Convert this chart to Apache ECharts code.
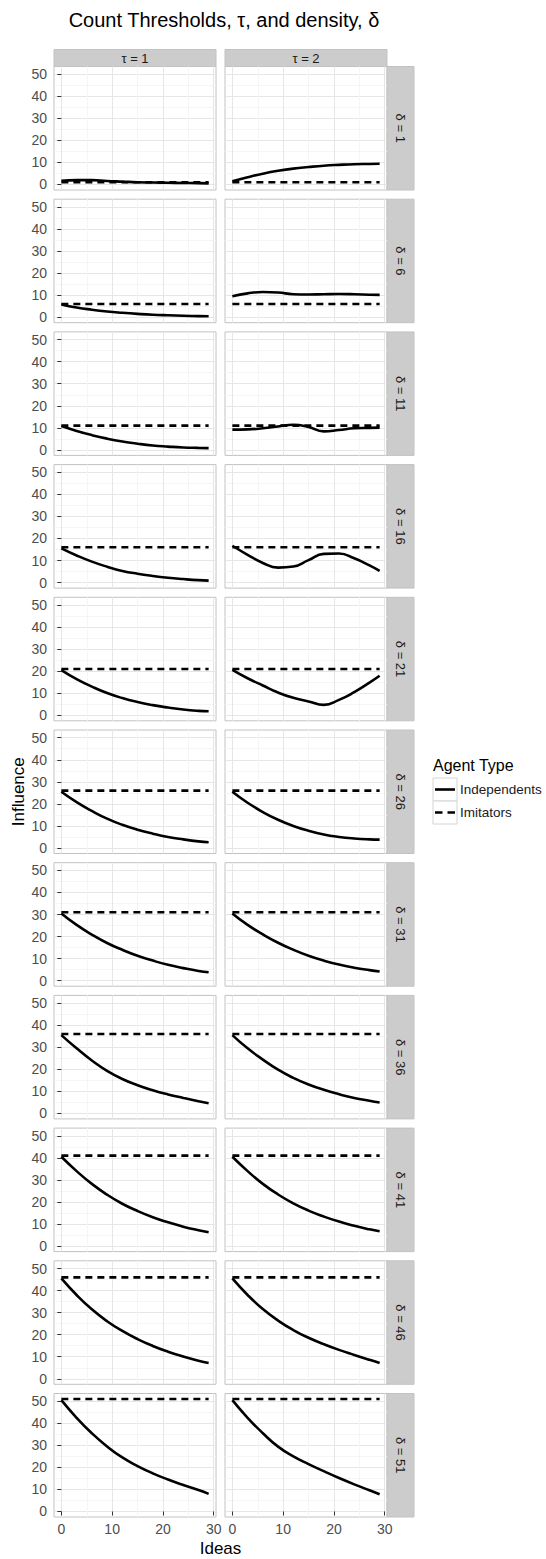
<!DOCTYPE html>
<html>
<head>
<meta charset="utf-8">
<script src="https://cdn.jsdelivr.net/npm/echarts@6/dist/echarts.min.js"></script>
<style>
  html, body { margin: 0; padding: 0; background: #ffffff; }
  #chart { width: 546px; height: 1559px; }
</style>
</head>
<body>
<div id="chart"></div>
<script>
// ---- data -------------------------------------------------------------
const ideas = [0, 3, 6, 9, 12, 15, 18, 21, 24, 27, 29];
const tauLabels = ['τ = 1', 'τ = 2'];
const densities = [1, 6, 11, 16, 21, 26, 31, 36, 41, 46, 51];
const xTicks = [0, 10, 20, 30];
const yTicks = [0, 10, 20, 30, 40, 50];

// Imitator influence for each density row
const imitatorsTau1 = [1, 6, 11, 16, 21, 26, 31, 36, 41, 46, 51];
const imitatorsTau2 = [1, 6, 11, 16, 21, 26, 31, 36, 41, 46, 51];

// Independent influence, sampled at `ideas`, threshold tau = 1
const indepTau1D1  = [1.7, 2.0, 2.0, 1.6, 1.3, 1.0, 0.9, 0.8, 0.7, 0.6, 0.5];
const indepTau1D6  = [5.8, 4.4, 3.4, 2.6, 2.0, 1.5, 1.1, 0.85, 0.65, 0.5, 0.45];
const indepTau1D11 = [10.8, 8.6, 6.7, 5.1, 3.8, 2.8, 2.0, 1.5, 1.1, 0.9, 0.8];
const indepTau1D16 = [15.5, 12.3, 9.5, 7.2, 5.3, 4.0, 3.0, 2.2, 1.6, 1.1, 0.9];
const indepTau1D21 = [20.5, 16.4, 13.0, 10.1, 7.8, 6.0, 4.6, 3.5, 2.6, 2.0, 1.8];
const indepTau1D26 = [25.5, 20.8, 16.8, 13.3, 10.5, 8.3, 6.5, 5.0, 3.9, 3.0, 2.6];
const indepTau1D31 = [30.5, 25.3, 20.9, 17.1, 14.0, 11.3, 9.1, 7.2, 5.7, 4.4, 3.8];
const indepTau1D36 = [35.5, 29.5, 24.0, 19.3, 15.6, 12.8, 10.5, 8.6, 7.0, 5.5, 4.6];
const indepTau1D41 = [40.5, 34.0, 28.2, 23.3, 19.2, 15.9, 13.1, 10.8, 8.8, 7.2, 6.3];
const indepTau1D46 = [45.5, 38.0, 31.5, 26.1, 21.7, 18.0, 14.9, 12.3, 10.1, 8.2, 7.2];
const indepTau1D51 = [50.5, 42.5, 35.5, 29.5, 24.5, 20.6, 17.3, 14.5, 12.0, 9.7, 8.0];

// Independent influence, sampled at `ideas`, threshold tau = 2
const indepTau2D1  = [1.5, 3.3, 4.9, 6.2, 7.2, 7.9, 8.5, 8.9, 9.2, 9.3, 9.4];
const indepTau2D6  = [9.5, 10.8, 11.4, 11.2, 10.4, 10.3, 10.4, 10.5, 10.4, 10.2, 10.1];
const indepTau2D11 = [9.2, 9.3, 9.8, 10.6, 11.4, 10.4, 8.4, 9.0, 9.8, 10.0, 10.1];
const indepTau2D16 = [16.7, 12.6, 8.9, 6.8, 7.3, 10.2, 13.0, 13.2, 11.0, 7.8, 5.3];
const indepTau2D21 = [20.6, 16.8, 13.5, 10.3, 7.9, 6.3, 4.7, 7.0, 10.5, 14.8, 17.9];
const indepTau2D26 = [25.5, 20.5, 16.3, 12.8, 10.0, 7.8, 6.1, 5.0, 4.3, 3.9, 3.8];
const indepTau2D31 = [30.5, 25.3, 21.0, 17.2, 14.0, 11.3, 9.1, 7.3, 5.9, 4.8, 4.2];
const indepTau2D36 = [35.5, 29.5, 24.4, 19.8, 16.1, 13.1, 10.7, 8.7, 7.0, 5.7, 4.9];
const indepTau2D41 = [40.5, 34.0, 28.2, 23.4, 19.4, 16.1, 13.4, 11.1, 9.2, 7.6, 6.7];
const indepTau2D46 = [45.5, 38.0, 31.6, 26.4, 22.1, 18.6, 15.7, 13.1, 10.8, 8.6, 7.2];
const indepTau2D51 = [50.5, 42.5, 35.5, 29.4, 25.0, 21.5, 18.3, 15.2, 12.3, 9.6, 7.8];

const independentsTau1 = [indepTau1D1, indepTau1D6, indepTau1D11, indepTau1D16, indepTau1D21,
  indepTau1D26, indepTau1D31, indepTau1D36, indepTau1D41, indepTau1D46, indepTau1D51];
const independentsTau2 = [indepTau2D1, indepTau2D6, indepTau2D11, indepTau2D16, indepTau2D21,
  indepTau2D26, indepTau2D31, indepTau2D36, indepTau2D41, indepTau2D46, indepTau2D51];

// ---- layout & style ---------------------------------------------------
const FONT = '"Liberation Sans", Arial, Helvetica, sans-serif';
const COL_LEFT = [54, 225];
const PANEL_W = 162;
const ROW_TOP = 66.5;
const ROW_PITCH = 132.7;
const PANEL_H = 123.5;
const STRIP_H = 17;
const STRIP_W = 27;
const X_RANGE = [-1.45, 30.45];
const Y_RANGE = [-2.5, 53.5];
const MAJOR = '#e6e6e6';
const MINOR = '#f5f5f5';
const BORDER = '#c2c2c2';
const STRIP_FILL = '#cccccc';
const STRIP_TEXT = '#1a1a1a';
const TICK_TEXT = '#4d4d4d';
const SOLID_KEY = 'path://M0 0H20V2.6H0Z';
const DASH_KEY = 'path://M0 0H7.5V2.6H0Z M12.5 0H20V2.6H12.5Z';

const indepByTau = [independentsTau1, independentsTau2];
const imitByTau = [imitatorsTau1, imitatorsTau2];

const grids = [], xAxes = [], yAxes = [], series = [], graphics = [];
const lastRow = densities.length - 1;

densities.forEach((d, r) => {
  const top = ROW_TOP + r * ROW_PITCH;
  [0, 1].forEach(c => {
    const idx = grids.length;
    grids.push({
      left: COL_LEFT[c], top: top, width: PANEL_W, height: PANEL_H,
      show: true, backgroundColor: '#ffffff', borderColor: BORDER, borderWidth: 1,
      containLabel: false, outerBoundsMode: 'none'
    });
    xAxes.push({
      type: 'value', gridIndex: idx, min: X_RANGE[0], max: X_RANGE[1], splitNumber: 3,
      axisLine: { show: false },
      axisTick: { show: r === lastRow, customValues: xTicks, length: 4, lineStyle: { color: '#333333', width: 1 } },
      axisLabel: { show: r === lastRow, customValues: xTicks, margin: 5, fontSize: 14, color: TICK_TEXT, fontFamily: FONT },
      splitLine: { show: true, lineStyle: { color: MAJOR, width: 1 } },
      minorTick: { show: false, splitNumber: 2 },
      minorSplitLine: { show: true, lineStyle: { color: MINOR, width: 1 } }
    });
    yAxes.push({
      type: 'value', gridIndex: idx, min: Y_RANGE[0], max: Y_RANGE[1], splitNumber: 5,
      axisLine: { show: false },
      axisTick: { show: c === 0, customValues: yTicks, length: 4, lineStyle: { color: '#333333', width: 1 } },
      axisLabel: { show: c === 0, customValues: yTicks, margin: 7, fontSize: 14, color: TICK_TEXT, fontFamily: FONT },
      splitLine: { show: true, lineStyle: { color: MAJOR, width: 1 } },
      minorTick: { show: false, splitNumber: 2 },
      minorSplitLine: { show: true, lineStyle: { color: MINOR, width: 1 } }
    });

    const indep = indepByTau[c][r];
    const imit = imitByTau[c][r];
    series.push({
      name: 'Imitators', type: 'line', xAxisIndex: idx, yAxisIndex: idx,
      data: [[ideas[0], imit], [ideas[ideas.length - 1], imit]],
      symbol: 'none', silent: true, z: 3,
      lineStyle: { color: '#000000', width: 2.6, type: [7, 5] }
    });
    series.push({
      name: 'Independents', type: 'line', xAxisIndex: idx, yAxisIndex: idx,
      data: ideas.map((x, k) => [x, indep[k]]),
      smooth: 0.5, symbol: 'none', silent: true, z: 4,
      lineStyle: { color: '#000000', width: 2.6, join: 'round' }
    });
  });

  // row strip on the right, label reads top to bottom
  graphics.push({
    type: 'rect', shape: { x: COL_LEFT[1] + PANEL_W, y: top, width: STRIP_W, height: PANEL_H },
    style: { fill: STRIP_FILL, stroke: BORDER, lineWidth: 1 }, silent: true
  });
  graphics.push({
    type: 'text', x: COL_LEFT[1] + PANEL_W + STRIP_W / 2, y: top + PANEL_H / 2, rotation: -Math.PI / 2,
    style: { text: 'δ = ' + d, align: 'center', verticalAlign: 'middle', fontSize: 13, fontFamily: FONT, fill: STRIP_TEXT },
    silent: true
  });
});

// column strips on top
tauLabels.forEach((t, c) => {
  graphics.push({
    type: 'rect', shape: { x: COL_LEFT[c], y: ROW_TOP - STRIP_H, width: PANEL_W, height: STRIP_H },
    style: { fill: STRIP_FILL, stroke: BORDER, lineWidth: 1 }, silent: true
  });
  graphics.push({
    type: 'text', x: COL_LEFT[c] + PANEL_W / 2, y: ROW_TOP - STRIP_H / 2,
    style: { text: t, align: 'center', verticalAlign: 'middle', fontSize: 13, fontFamily: FONT, fill: STRIP_TEXT },
    silent: true
  });
});

const plotTop = ROW_TOP;
const plotBottom = ROW_TOP + lastRow * ROW_PITCH + PANEL_H;

// titles
graphics.push({
  type: 'text', x: 224, y: 20,
  style: { text: 'Count Thresholds, τ, and density, δ', align: 'center', verticalAlign: 'middle', fontSize: 20, fontFamily: FONT, fill: '#000000' },
  silent: true
});
graphics.push({
  type: 'text', x: (COL_LEFT[0] + COL_LEFT[1] + PANEL_W) / 2, y: 1548,
  style: { text: 'Ideas', align: 'center', verticalAlign: 'middle', fontSize: 17, fontFamily: FONT, fill: '#000000' },
  silent: true
});
graphics.push({
  type: 'text', x: 18, y: (plotTop + plotBottom) / 2, rotation: Math.PI / 2,
  style: { text: 'Influence', align: 'center', verticalAlign: 'middle', fontSize: 17, fontFamily: FONT, fill: '#000000' },
  silent: true
});

// legend title and key boxes
const LEG_X = 433, LEG_TOP = 778, KEY_W = 24, KEY_H = 23;
graphics.push({
  type: 'text', x: LEG_X, y: 765,
  style: { text: 'Agent Type', align: 'left', verticalAlign: 'middle', fontSize: 16, fontFamily: FONT, fill: '#000000' },
  silent: true
});
[0, 1].forEach(k => {
  graphics.push({
    type: 'rect', shape: { x: LEG_X, y: LEG_TOP + k * KEY_H, width: KEY_W, height: KEY_H },
    style: { fill: '#ffffff', stroke: '#d4d4d4', lineWidth: 1 }, silent: true
  });
});

const chart = echarts.init(document.getElementById('chart'), null, { renderer: 'svg' });
chart.setOption({
  animation: false,
  backgroundColor: '#ffffff',
  textStyle: { fontFamily: FONT },
  grid: grids,
  xAxis: xAxes,
  yAxis: yAxes,
  legend: {
    data: [{ name: 'Independents', icon: SOLID_KEY }, { name: 'Imitators', icon: DASH_KEY }],
    orient: 'vertical', left: LEG_X + 2, top: LEG_TOP, padding: 0,
    itemWidth: 20, itemHeight: KEY_H, itemGap: 0, selectedMode: false,
    itemStyle: { color: '#000000' },
    textStyle: { fontSize: 13.5, lineHeight: KEY_H, color: STRIP_TEXT, fontFamily: FONT }
  },
  graphic: { elements: graphics },
  series: series
});
</script>
</body>
</html>
